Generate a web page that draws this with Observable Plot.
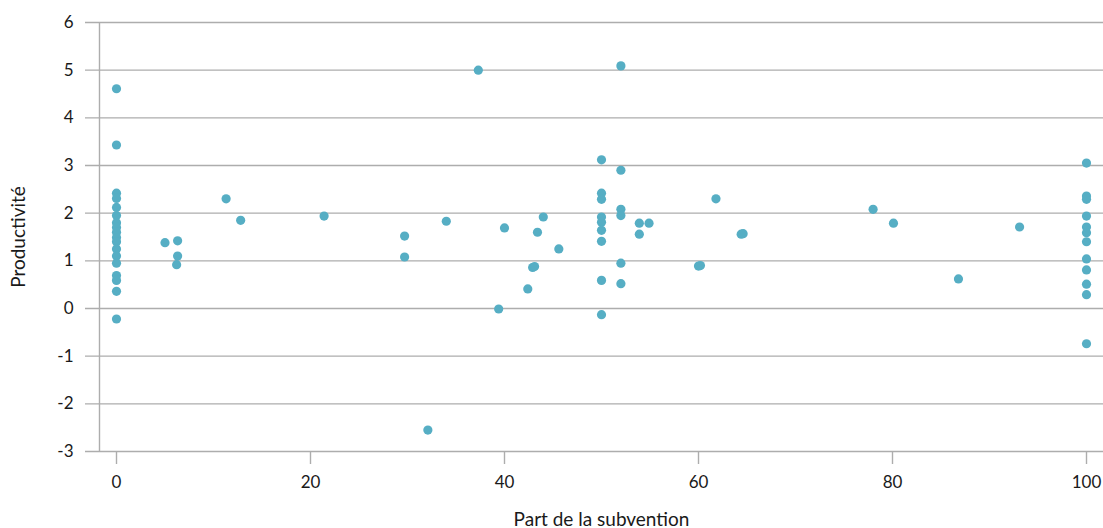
<!DOCTYPE html>
<html>
<head>
<meta charset="utf-8">
<script src="https://cdn.jsdelivr.net/npm/d3@7"></script>
<script src="https://cdn.jsdelivr.net/npm/@observablehq/plot@0.6"></script>
<style>
  html, body { margin: 0; padding: 0; background: #fff; }
  #chart svg { display: block; }
</style>
</head>
<body>
<div id="chart"></div>
<script>
// Part de la subvention (%)
const subvention = [
  0,0,0,0,0,0,0,0,0,0,0,0,0,0,0,0,0,0,
  5.0,6.3,6.3,6.2,11.3,12.8,21.4,29.7,29.7,32.1,34.0,37.3,39.4,40.0,42.4,42.9,43.1,43.4,44.0,45.6,
  50,50,50,50,50,50,50,50,50,
  52,52,52,52,52,52,
  53.9,54.9,53.9,60.0,60.2,61.8,64.4,64.6,78.0,80.1,86.8,93.1,
  100,100,100,100,100,100,100,100,100,100,100,100
];
// Productivité
const productivite = [
  4.61,3.43,2.42,2.31,2.12,1.95,1.80,1.70,1.60,1.49,1.40,1.25,1.10,0.95,0.69,0.59,0.36,-0.22,
  1.38,1.42,1.10,0.92,2.30,1.85,1.94,1.52,1.08,-2.55,1.83,5.00,-0.01,1.69,0.41,0.86,0.88,1.60,1.92,1.25,
  3.12,2.42,2.29,1.92,1.81,1.64,1.41,0.59,-0.13,
  5.09,2.90,2.08,1.95,0.95,0.52,
  1.79,1.79,1.56,0.89,0.90,2.30,1.56,1.57,2.08,1.79,0.62,1.71,
  3.05,2.36,2.29,1.94,1.71,1.59,1.40,1.04,0.81,0.51,0.29,-0.74
];
const xTicks = [0, 20, 40, 60, 80, 100];
const yTicks = [-3, -2, -1, 0, 1, 2, 3, 4, 5, 6];
const xDomain = [0, 100];
const yDomain = [-3, 6];

const data = subvention.map((x, i) => ({x, y: productivite[i]}));
const grey = "#adadad";
const fmt = d => String(d);

const chart = Plot.plot({
  width: 1103,
  height: 528,
  marginTop: 22,
  marginBottom: 77,
  marginLeft: 116,
  marginRight: 17,
  style: {fontFamily: "Lato, 'Noto Sans', sans-serif", fontSize: "17px", color: "#1a1a1a", background: "#fff"},
  x: {domain: xDomain},
  y: {domain: yDomain},
  marks: [
    Plot.gridY(yTicks, {stroke: grey, strokeOpacity: 1, strokeWidth: 1.4, insetLeft: -31, insetRight: -17}),
    Plot.ruleX([xDomain[0]], {y1: yDomain[0], y2: yDomain[1], dx: -17, stroke: grey, strokeWidth: 1.4}),
    Plot.axisY(yTicks, {tickSize: 0, tickPadding: 43, tickFormat: fmt, label: null, fontSize: 17}),
    Plot.axisY(yTicks, {tickSize: 0, tickFormat: () => "", label: "Productivité", labelArrow: "none", labelAnchor: "center", labelOffset: 105, fontSize: 19}),
    Plot.axisX(xTicks, {tickSize: 13, tickPadding: 11, stroke: grey, strokeWidth: 1.4, tickFormat: fmt, label: null, fontSize: 17}),
    Plot.axisX(xTicks, {tickSize: 0, tickFormat: () => "", label: "Part de la subvention", labelArrow: "none", labelAnchor: "center", labelOffset: 74, fontSize: 19}),
    Plot.dot(data, {x: "x", y: "y", r: 4.6, fill: "#56aec4", stroke: "none"})
  ]
});
document.getElementById("chart").appendChild(chart);
</script>
</body>
</html>
